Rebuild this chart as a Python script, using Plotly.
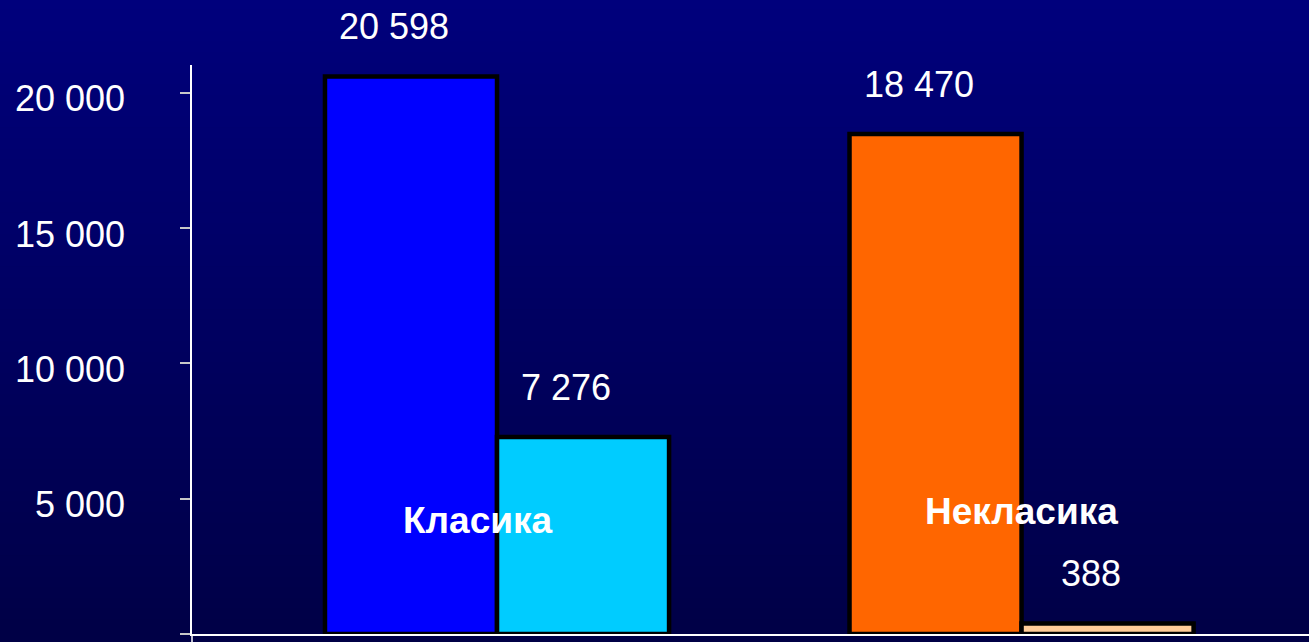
import plotly.graph_objects as go

# Daten aus dem Diagramm
kategorien = ['Класика', 'Некласика']
serie_a = [20598, 18470]
serie_b = [7276, 388]
farben_a = ['#0000FF', '#FF6600']
farben_b = ['#00CCFF', '#FFCC99']
y_ticks = [0, 5000, 10000, 15000, 20000]


def fmt(v):
    # Tausendertrennzeichen als Leerzeichen
    return f"{v:,}".replace(",", " ")


FONT = "Liberation Sans, Arial, sans-serif"
W, H = 1309, 642
L, R, T, B = 192, 0, 65, 8
BARGAP = 0.344

fig = go.Figure()
fig.add_trace(go.Bar(x=kategorien, y=serie_a, marker=dict(color=farben_a, line=dict(color='black', width=4.5))))
fig.add_trace(go.Bar(x=kategorien, y=serie_b, marker=dict(color=farben_b, line=dict(color='black', width=4.5))))

# Hintergrund mit vertikalem Farbverlauf (dunkelblau)
shapes = []
n = 60
ph = H - T - B
for i in range(n):
    p0 = i * H / n
    p1 = (i + 1) * H / n
    t = (i + 0.5) / n
    b = round(124 - (124 - 70) * t)
    shapes.append(dict(type='rect', xref='paper', yref='paper', layer='below',
                       x0=-1, x1=2,
                       y0=(H - B - p1) / ph, y1=(H - B - p0) / ph + 0.002,
                       fillcolor=f'rgb(0,0,{b})', line=dict(width=0)))
# Verlängerung der y-Achse nach unten
shapes.append(dict(type='line', xref='paper', yref='paper', x0=0, x1=0, y0=0, y1=-0.03,
                   line=dict(color='white', width=1.5)))

# Wertebeschriftungen über den Balken
w = (1 - BARGAP) / 2
annotations = []
for i, k in enumerate(kategorien):
    for off, vals in ((-w / 2, serie_a), (w / 2, serie_b)):
        annotations.append(dict(x=i + off, y=vals[i], text=fmt(vals[i]), showarrow=False,
                                xshift=-17, yshift=50, yanchor='middle',
                                font=dict(family=FONT, size=36, color='white')))

# Kategorienamen im Diagramm
kat_y = [4212, 4526]
kat_shift = [-19, 0]
for i, k in enumerate(kategorien):
    annotations.append(dict(x=i, y=kat_y[i], text=f'<b>{k}</b>', showarrow=False,
                            xshift=kat_shift[i], yanchor='middle',
                            font=dict(family=FONT, size=37, color='white')))

fig.update_layout(
    width=W, height=H,
    margin=dict(l=L, r=R, t=T, b=B),
    barmode='group', bargap=BARGAP, bargroupgap=0,
    showlegend=False,
    paper_bgcolor='#000060',
    plot_bgcolor='rgba(0,0,0,0)',
    shapes=shapes,
    annotations=annotations,
    xaxis=dict(range=[-0.5815, 1.548], showticklabels=False, showgrid=False, zeroline=False,
               showline=True, linecolor='white', linewidth=1.5, ticks=''),
    yaxis=dict(range=[0, 21023], tickvals=y_ticks,
               ticktext=[''] + [fmt(v) for v in y_ticks[1:]],
               showgrid=False, zeroline=False, showline=True, linecolor='white', linewidth=1.5,
               ticks='outside', ticklen=10, tickwidth=1.5, tickcolor='#c8c8c8',
               ticklabelstandoff=48, ticklabelshift=6,
               tickfont=dict(family=FONT, size=36, color='white')),
)

# Seitenrand des Browsers entfernen, Modebar ausblenden
fig.write_html("out.html", config={'displayModeBar': False},
               post_script="document.body.style.margin='0';document.body.style.overflow='hidden';")
